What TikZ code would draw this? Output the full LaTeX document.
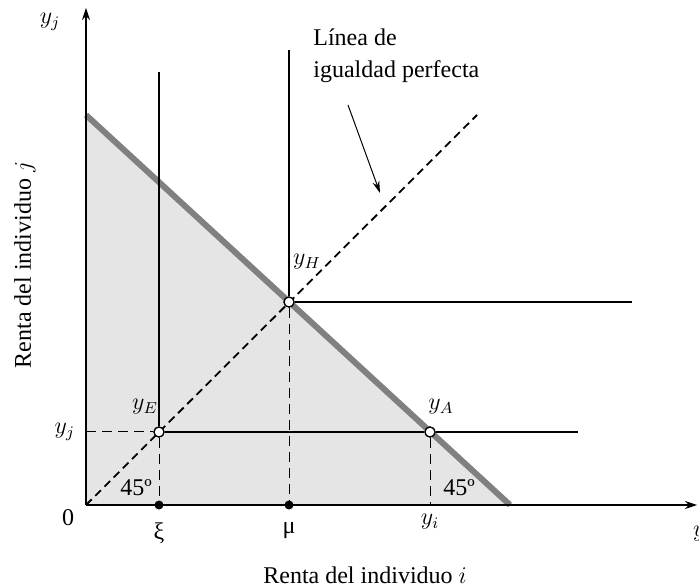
\documentclass[tikz,border=0pt]{standalone}
\usepackage{fontspec}
\setmainfont{Liberation Serif}
\usetikzlibrary{arrows.meta,positioning}

\begin{document}
\begin{tikzpicture}[
  x=0.5pt, y=0.5pt,
  font=\fontsize{12}{16}\selectfont,
  axis/.style={-{Stealth[length=6pt,width=4pt]}, line width=0.7pt},
  budget/.style={line width=3pt, color=black!50},
  ray/.style={line width=0.9pt},
  diag/.style={line width=0.9pt, dash pattern=on 4pt off 2.5pt},
  guide/.style={line width=0.5pt, dash pattern=on 5pt off 3pt},
  point/.style={circle, draw, fill=white, line width=0.6pt, inner sep=0pt, minimum size=5pt},
  dot/.style={circle, fill=black, inner sep=0pt, minimum size=4.5pt},
  pointer/.style={-{Stealth[length=6pt,width=3.5pt]}, line width=0.5pt}
]
\useasboundingbox (-86,-82) rectangle (613,505);

% axes and budget line
\coordinate (O) at (0,0);
\coordinate (xend) at (611,0);
\coordinate (ytop) at (0,497);
\coordinate (B1) at (0,390);
\coordinate (B2) at (424,0);
\coordinate (Dend) at (391,390);
\fill[black!10] (O) -- (B1) -- (B2) -- cycle;
\draw[budget] (B1) -- (B2);
\draw[diag] (O) -- (Dend);

% points
\node[point] (yE) at (73,73) {};
\node[point] (yH) at (203,203) {};
\node[point] (yA) at (344,73) {};
\node[dot] (xidot) at (73,0) {};
\node[dot] (mudot) at (203,0) {};
\coordinate (yAfoot) at (344,0);
\coordinate (yjtick) at (0,73);
\coordinate (Etop) at (73,433);
\coordinate (Htop) at (203,455);
\coordinate (Hend) at (546,203);
\coordinate (Eend) at (492,73);

% guides
\draw[guide] (yjtick) -- (yE);
\draw[guide] (yE) -- (xidot);
\draw[guide] (yH) -- (mudot);
\draw[guide] (yA) -- (yAfoot);

% rays
\draw[ray] (Etop) -- (yE);
\draw[ray] (Htop) -- (yH);
\draw[ray] (yH) -- (Hend);
\draw[ray] (yE) -- (yA) -- (Eend);

\draw[axis] (O) -- (xend);
\draw[axis] (O) -- (ytop);

% redraw points on top
\node[point] at (yE) {};
\node[point] at (yH) {};
\node[point] at (yA) {};

% labels
\node (zero) at (-18,-13) {0};
\node[below=3pt of xidot] (xi) {ξ};
\node[below=3pt of mudot] (mu) {μ};
\node (yi) at (344,-17) {$y_i$};
\node[anchor=west] (yiaxis) at (600,-29) {$y_i$};
\node (yjtop) at (-36,483) {$y_j$};
\node[left=2pt of yjtick] (yjleft) {$y_j$};
\node (yElbl) at (59,98) {$y_E$};
\node (yHlbl) at (221,243) {$y_H$};
\node (yAlbl) at (355,98) {$y_A$};
\node (ang1) at (50,17) {45º};
\node (ang2) at (373,17) {45º};
\node (xlbl) at (279,-70) {Renta del individuo $i$};
\node[rotate=90] (ylbl) at (-61,240) {Renta del individuo $j$};
\node[anchor=north west, align=left, inner sep=0pt] (legend) at (227,477) {Línea de\\igualdad perfecta};
\coordinate (ptr) at (294,312);
\draw[pointer] (262,400) -- (ptr);
\end{tikzpicture}
\end{document}
